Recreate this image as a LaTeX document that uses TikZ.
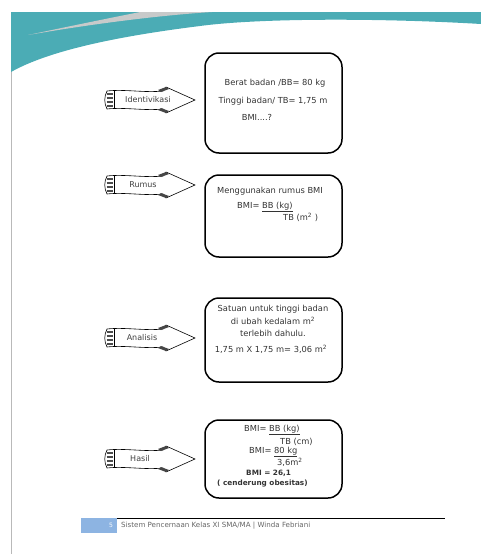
\documentclass[tikz,border=0pt]{standalone}
\usepackage{fontspec}
\setmainfont{DejaVu Sans}
\definecolor{headteal}{RGB}{75,172,181}
\definecolor{swoosh}{RGB}{200,202,202}
\definecolor{footblue}{RGB}{141,180,226}

\begin{document}
\begin{tikzpicture}[x=1pt, y=-1pt,
		infobox/.style = {draw, line width=1.5pt, rounded corners=14pt, minimum width=137pt},
		boxtext/.style = {font=\fontsize{8.3}{10}\selectfont, text=black!80, inner sep=0pt},
		boldtext/.style = {boxtext, font=\fontsize{7.3}{9}\selectfont\bfseries},
		arrowlabel/.style = {font=\fontsize{8}{9}\selectfont, text=black!75, inner sep=0pt},
	]
	\useasboundingbox (0,0) rectangle (481,554);
	% page edge and header band
	\draw[gray!55, line width=1pt] (11,12) -- (11,554);
	\fill[headteal] (11,12) -- (481,12) -- (481,24)
		.. controls (380,18) and (260,18) .. (200,26)
		.. controls (120,36) and (50,50) .. (11,72) -- cycle;
	\fill[swoosh] (212,12) .. controls (150,16) and (80,26) .. (28,35)
		.. controls (85,23) and (125,15) .. (140,12) -- cycle;

	% banner arrows
	\foreach \yy/\xx/\lab/\nm in {100/148/Identivikasi/idt, 185/143/Rumus/rms, 338/142/Analisis/ans, 459/140/Hasil/hsl} {
		\draw[line width=0.6pt, fill=white] (107,\yy-9) .. controls (125,\yy-11) and (145,\yy-7) .. (163,\yy-9)
			-- (166,\yy-13) -- (195,\yy) -- (166,\yy+13) -- (163,\yy+9)
			.. controls (145,\yy+11) and (125,\yy+7) .. (107,\yy+9)
			.. controls (104,\yy+3) and (104,\yy-3) .. cycle;
		\draw[line width=0.5pt] (114,\yy-9.5) -- (114,\yy+8.5);
		\foreach \s in {-6,-2,2,6}
			\draw[gray!60!black, line width=1.1pt] (106.5,\yy+\s) -- (113,\yy+\s);
		\fill[gray!55!black] (158,\yy-10) -- (166,\yy-13) -- (169,\yy-11) -- (161,\yy-8) -- cycle;
		\fill[gray!55!black] (158,\yy+10) -- (166,\yy+13) -- (169,\yy+11) -- (161,\yy+8) -- cycle;
		\node[arrowlabel] (lbl-\nm) at (\xx,\yy) {\lab};
	}

	% boxes
	\node[infobox, minimum height=100pt] (box-idt) at (273.5,103) {};
	\node[infobox, minimum height=82pt] (box-rms) at (273.5,216) {};
	\node[infobox, minimum height=84pt] (box-ans) at (273.5,340) {};
	\node[infobox, minimum height=78pt] (box-hsl) at (273.5,459) {};

	% box texts
	\node[boxtext] (t-idt1) at (275,83) {Berat badan /BB= 80 kg};
	\node[boxtext] (t-idt2) at (273,101) {Tinggi badan/ TB= 1,75 m};
	\node[boxtext] (t-idt3) at (257,117) {BMI....?};

	\node[boxtext] (t-rms1) at (270,191) {Menggunakan rumus BMI};
	\node[boxtext, anchor=west] (t-rms2) at (237,207) {BMI= \underline{BB (kg)}};
	\node[boxtext, anchor=west] (t-rms3) at (283,217) {TB (m\textsuperscript{2} )};

	\node[boxtext] (t-ans1) at (273,309) {Satuan untuk tinggi badan};
	\node[boxtext] (t-ans2) at (273,321) {di ubah kedalam m\textsuperscript{2}};
	\node[boxtext] (t-ans3) at (273,333) {terlebih dahulu.};
	\node[boxtext] (t-ans4) at (271,349) {1,75 m X 1,75 m= 3,06 m\textsuperscript{2}};

	\node[boxtext, anchor=west] (t-hsl1) at (244,430) {BMI= \underline{BB (kg)}};
	\node[boxtext, anchor=west] (t-hsl2) at (280,442) {TB (cm)};
	\node[boxtext, anchor=west] (t-hsl3) at (249,452) {BMI= \underline{80 kg}};
	\node[boxtext, anchor=west] (t-hsl4) at (277,462) {3,6m\textsuperscript{2}};
	\node[boldtext, anchor=west] (t-hsl5) at (246,473) {BMI = 26,1};
	\node[boldtext, anchor=west] (t-hsl6) at (217,484) {( cenderung obesitas)};

	% footer
	\fill[footblue] (81,518) rectangle (117,533);
	\draw[line width=0.8pt] (117,518) -- (445,518);
	\node[font=\fontsize{6}{7}\selectfont, text=white, inner sep=0pt] (pagenum) at (111,525.5) {5};
	\node[font=\fontsize{7.1}{8}\selectfont, text=black!60, inner sep=0pt, anchor=west] (foottext) at (121,525.5) {Sistem Pencernaan Kelas XI SMA/MA | Winda Febriani};
\end{tikzpicture}
\end{document}
